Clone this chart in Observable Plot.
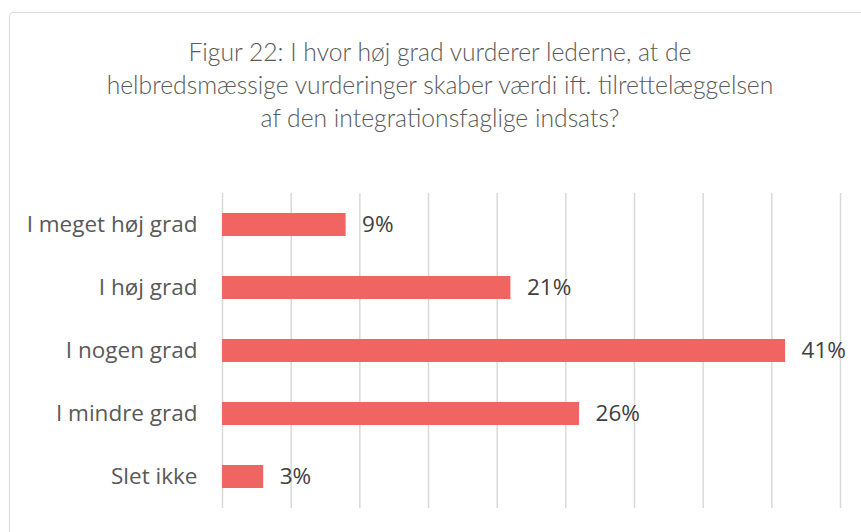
<!DOCTYPE html>
<html>
<head>
<meta charset="utf-8">
<script src="https://cdn.jsdelivr.net/npm/d3@7"></script>
<script src="https://cdn.jsdelivr.net/npm/@observablehq/plot@0.6"></script>
<style>
  html, body { margin: 0; padding: 0; background: #fff; }
  #wrap { position: relative; width: 861px; height: 532px; overflow: hidden; background: #fff; }
  #frame { position: absolute; left: 9px; top: 12px; width: 880px; height: 560px; border: 1.5px solid #d9d9d9; border-radius: 4px; box-sizing: border-box; }
  #title { position: absolute; left: 9px; width: 862px; top: 35px; text-align: center; font-family: Lato, sans-serif; font-weight: 300; font-size: 24.7px; line-height: 33px; color: #595959; }
  #chart { position: absolute; left: 0; top: 0; }
</style>
</head>
<body>
<div id="wrap">
  <div id="frame"></div>
  <div id="title">Figur 22: I hvor høj grad vurderer lederne, at de<br>helbredsmæssige vurderinger skaber værdi ift. tilrettelæggelsen<br>af den integrationsfaglige indsats?</div>
  <div id="chart"></div>
</div>
<script>
const categories = ["I meget høj grad", "I høj grad", "I nogen grad", "I mindre grad", "Slet ikke"];
const values = [9, 21, 41, 26, 3];
const xTicks = [0, 5, 10, 15, 20, 25, 30, 35, 40, 45];

const data = categories.map((c, i) => ({category: c, value: values[i], label: values[i] + "%"}));

const chart = Plot.plot({
  width: 861,
  height: 532,
  marginLeft: 222,
  marginRight: 21,
  marginTop: 193,
  marginBottom: 24,
  style: {background: "transparent", fontFamily: "'Open Sans', sans-serif", overflow: "visible"},
  x: {domain: [0, 45], axis: null},
  y: {domain: categories, paddingInner: 0.64, paddingOuter: 0.32, axis: null},
  marks: [
    Plot.gridX(xTicks, {stroke: "#d9d9d9", strokeOpacity: 1, strokeWidth: 1.5}),
    Plot.barX(data, {x: "value", y: "category", fill: "#f06461"}),
    Plot.axisY({tickSize: 0, tickPadding: 25, fontSize: 22.5, fontWeight: 400, fill: "#595959", label: null}),
    Plot.text(data, {x: "value", y: "category", text: "label", dx: 16, textAnchor: "start", fontSize: 22.5, fontWeight: 400, fill: "#404040"})
  ]
});
document.getElementById("chart").appendChild(chart);
</script>
</body>
</html>
